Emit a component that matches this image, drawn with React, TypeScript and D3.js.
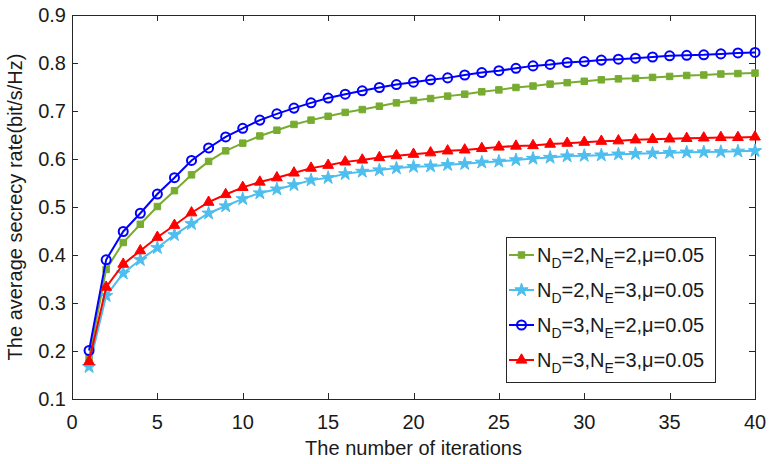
import React, { useRef, useEffect } from 'react';
import * as d3 from 'd3';

const iterations = d3.range(1, 41);

const rateD2E2 = [
  0.186, 0.370, 0.426, 0.464, 0.501, 0.534, 0.567, 0.595, 0.617, 0.633,
  0.648, 0.660, 0.672, 0.681, 0.689, 0.697, 0.703, 0.710, 0.717, 0.722,
  0.726, 0.731, 0.735, 0.740, 0.744, 0.749, 0.752, 0.756, 0.759, 0.762,
  0.765, 0.767, 0.768, 0.770, 0.772, 0.774, 0.775, 0.777, 0.778, 0.779,
];
const rateD2E3 = [
  0.167, 0.315, 0.362, 0.390, 0.415, 0.442, 0.465, 0.487, 0.502, 0.517,
  0.529, 0.537, 0.546, 0.556, 0.561, 0.569, 0.574, 0.577, 0.581, 0.584,
  0.585, 0.588, 0.590, 0.593, 0.595, 0.598, 0.601, 0.603, 0.606, 0.607,
  0.608, 0.610, 0.611, 0.612, 0.613, 0.614, 0.6145, 0.615, 0.616, 0.617,
];
const rateD3E2 = [
  0.201, 0.390, 0.449, 0.487, 0.527, 0.561, 0.597, 0.623, 0.646, 0.664,
  0.681, 0.694, 0.706, 0.717, 0.727, 0.735, 0.742, 0.749, 0.755, 0.760,
  0.765, 0.769, 0.775, 0.780, 0.784, 0.789, 0.794, 0.797, 0.801, 0.803,
  0.806, 0.808, 0.810, 0.8125, 0.815, 0.816, 0.817, 0.819, 0.821, 0.822,
];
const rateD3E3 = [
  0.178, 0.333, 0.381, 0.409, 0.437, 0.462, 0.488, 0.510, 0.526, 0.541,
  0.552, 0.561, 0.571, 0.581, 0.587, 0.594, 0.598, 0.603, 0.607, 0.610,
  0.613, 0.617, 0.619, 0.622, 0.625, 0.627, 0.628, 0.631, 0.633, 0.635,
  0.637, 0.638, 0.640, 0.641, 0.642, 0.643, 0.644, 0.645, 0.645, 0.646,
];

const xTicks = [0, 5, 10, 15, 20, 25, 30, 35, 40];
const yTicks = [0.1, 0.2, 0.3, 0.4, 0.5, 0.6, 0.7, 0.8, 0.9];

const legendD = ['2', '2', '3', '3'];
const legendE = ['2', '3', '2', '3'];

const seriesList = [
  { values: rateD2E2, color: '#77AC30', marker: 'square' },
  { values: rateD2E3, color: '#4DBEEE', marker: 'star' },
  { values: rateD3E2, color: '#0000FF', marker: 'circle' },
  { values: rateD3E3, color: '#FF0000', marker: 'triangle' },
];

function App() {
  const canvas = useRef(null);

  useEffect(() => {
    document.body.style.margin = '0';
    const width = 769;
    const height = 464;
    const margin = { top: 15, right: 14, bottom: 65, left: 72 };
    const w = width - margin.left - margin.right;
    const h = height - margin.top - margin.bottom;
    const font = '"Liberation Sans", Arial, sans-serif';
    const axisColor = '#262626';
    const fs = 20;

    d3.select(canvas.current).select('svg').remove();

    const svg = d3
      .select(canvas.current)
      .append('svg')
      .attr('width', width)
      .attr('height', height)
      .style('display', 'block')
      .style('font-family', font);

    const g = svg.append('g').attr('transform', `translate(${margin.left}, ${margin.top})`);

    const x = d3.scaleLinear().domain([0, 40]).range([0, w]);
    const y = d3.scaleLinear().domain([0.1, 0.9]).range([h, 0]);

    // ticks pointing inward on all four sides (matlab box)
    const tl = 6;
    const ticks = g.append('g').attr('stroke', axisColor).attr('stroke-width', 1);
    xTicks.forEach((t) => {
      const px = Math.round(x(t)) + 0.5;
      ticks.append('line').attr('x1', px).attr('x2', px).attr('y1', h).attr('y2', h - tl);
      ticks.append('line').attr('x1', px).attr('x2', px).attr('y1', 0).attr('y2', tl);
    });
    yTicks.forEach((t) => {
      const py = Math.round(y(t)) + 0.5;
      ticks.append('line').attr('x1', 0).attr('x2', tl).attr('y1', py).attr('y2', py);
      ticks.append('line').attr('x1', w).attr('x2', w - tl).attr('y1', py).attr('y2', py);
    });
    g.append('rect')
      .attr('x', 0.5)
      .attr('y', 0.5)
      .attr('width', w)
      .attr('height', h)
      .attr('fill', 'none')
      .attr('stroke', axisColor)
      .attr('stroke-width', 1);

    // tick labels
    g.selectAll('.xlab')
      .data(xTicks)
      .enter()
      .append('text')
      .attr('x', (d) => x(d))
      .attr('y', h + 30)
      .attr('text-anchor', 'middle')
      .attr('font-size', fs)
      .attr('fill', '#1a1a1a')
      .text((d) => d);
    g.selectAll('.ylab')
      .data(yTicks)
      .enter()
      .append('text')
      .attr('x', -6)
      .attr('y', (d) => y(d))
      .attr('dy', '0.35em')
      .attr('text-anchor', 'end')
      .attr('font-size', fs)
      .attr('fill', '#1a1a1a')
      .text((d) => d3.format('.1f')(d));

    // axis titles
    g.append('text')
      .attr('x', w / 2)
      .attr('y', h + 56)
      .attr('text-anchor', 'middle')
      .attr('font-size', fs)
      .attr('fill', '#1a1a1a')
      .text('The number of iterations');
    g.append('text')
      .attr('transform', `translate(${-50}, ${h / 2}) rotate(-90)`)
      .attr('text-anchor', 'middle')
      .attr('font-size', fs)
      .attr('fill', '#1a1a1a')
      .text('The average secrecy rate(bit/s/Hz)');

    const symbolFor = (m) => {
      if (m === 'square') return d3.symbol(d3.symbolSquare, 42)();
      if (m === 'star') return d3.symbol(d3.symbolStar, 55)();
      if (m === 'triangle') return d3.symbol(d3.symbolTriangle, 50)();
      return d3.symbol(d3.symbolCircle, 64)();
    };

    const drawMarker = (sel, m, color) => {
      sel
        .append('path')
        .attr('d', symbolFor(m))
        .attr('fill', m === 'circle' ? 'none' : color)
        .attr('stroke', color)
        .attr('stroke-width', m === 'circle' ? 2 : 1);
    };

    const line = d3
      .line()
      .x((d) => x(d[0]))
      .y((d) => y(d[1]));

    seriesList.forEach((s) => {
      const pts = iterations.map((it, i) => [it, s.values[i]]);
      g.append('path')
        .datum(pts)
        .attr('d', line)
        .attr('fill', 'none')
        .attr('stroke', s.color)
        .attr('stroke-width', 2);
      pts.forEach((p) => {
        const mk = g.append('g').attr('transform', `translate(${x(p[0])}, ${y(p[1])})`);
        drawMarker(mk, s.marker, s.color);
      });
    });

    // legend
    const lx = 506 - margin.left;
    const ly = 237 - margin.top;
    const lw = 209;
    const rowH = 35;
    const leg = g.append('g').attr('transform', `translate(${lx}, ${ly})`);
    leg.append('rect')
      .attr('x', 0.5)
      .attr('y', 0.5)
      .attr('width', lw)
      .attr('height', rowH * 4 + 5)
      .attr('fill', 'white')
      .attr('stroke', axisColor)
      .attr('stroke-width', 1);
    seriesList.forEach((s, i) => {
      const cy = 18 + i * rowH;
      const row = leg.append('g').attr('transform', `translate(0, ${cy})`);
      row.append('line')
        .attr('x1', 3)
        .attr('x2', 28)
        .attr('y1', 0)
        .attr('y2', 0)
        .attr('stroke', s.color)
        .attr('stroke-width', 2);
      const mk = row.append('g').attr('transform', 'translate(15.5, 0)');
      drawMarker(mk, s.marker, s.color);
      const t = row.append('text')
        .attr('x', 31)
        .attr('y', 7)
        .attr('font-size', fs)
        .attr('fill', '#1a1a1a');
      t.append('tspan').text('N');
      t.append('tspan').attr('font-size', 14).attr('dy', 6).text('D');
      t.append('tspan').attr('dy', -6).text(`=${legendD[i]},N`);
      t.append('tspan').attr('font-size', 14).attr('dy', 6).text('E');
      t.append('tspan').attr('dy', -6).text(`=${legendE[i]},\u03bc=0.05`);
    });
  }, []);

  return <div ref={canvas}></div>;
}

export default App;
